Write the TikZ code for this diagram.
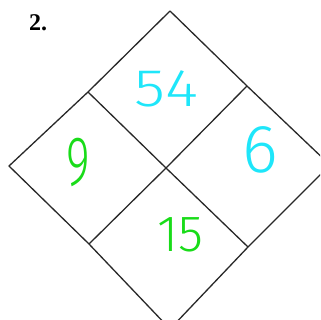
\documentclass[tikz,border=0pt]{standalone}
\usepackage{fontspec}
\setmainfont{Liberation Serif}
\newfontfamily\hand{Fira Sans}[UprightFont={* Light}]
\definecolor{handcyan}{RGB}{30,230,250}
\definecolor{handgreen}{RGB}{25,220,25}
\definecolor{edge}{RGB}{40,40,40}
\tikzset{
  edgeline/.style={draw=edge,line width=1.3pt,line join=round},
  num/.style={inner sep=0pt,anchor=center},
}
\begin{document}
\begin{tikzpicture}[x=1pt,y=-1pt]
\useasboundingbox (0,0) rectangle (320,320);
\clip (0,0) rectangle (320,320);
\fill[white] (0,0) rectangle (320,320);
% corners
\coordinate (T) at (170,11);
\coordinate (L) at (9,166);
\coordinate (B) at (170,329);
\coordinate (R) at (330,165);
\coordinate (C) at (166,168);
\coordinate (TL) at (88,92);
\coordinate (TR) at (247,86);
\coordinate (LB) at (89,244);
\coordinate (RB) at (248,247);
\draw[edgeline] (T) -- (TR) -- (R) -- (RB) -- (B) -- (LB) -- (L) -- (TL) -- cycle;
\draw[edgeline] (TL) -- (C) -- (RB);
\draw[edgeline] (TR) -- (C) -- (LB);
\node[anchor=base west,inner sep=0pt,font=\bfseries\fontsize{24}{24}\selectfont] (lbl) at (29,31) {2.};
\node[num,text=handcyan,font=\hand\fontsize{53}{53}\selectfont,xscale=1.2] (n54) at (166,88.5) {54};
\node[num,text=handgreen,font=\hand\fontsize{70}{70}\selectfont,xscale=0.65] (n9) at (78,163) {9};
\node[num,text=handcyan,font=\hand\fontsize{68}{68}\selectfont] (n6) at (260,150) {6};
\node[num,text=handgreen,font=\hand\fontsize{51}{51}\selectfont] (n15) at (180.5,234.5) {15};
\end{tikzpicture}
\end{document}
